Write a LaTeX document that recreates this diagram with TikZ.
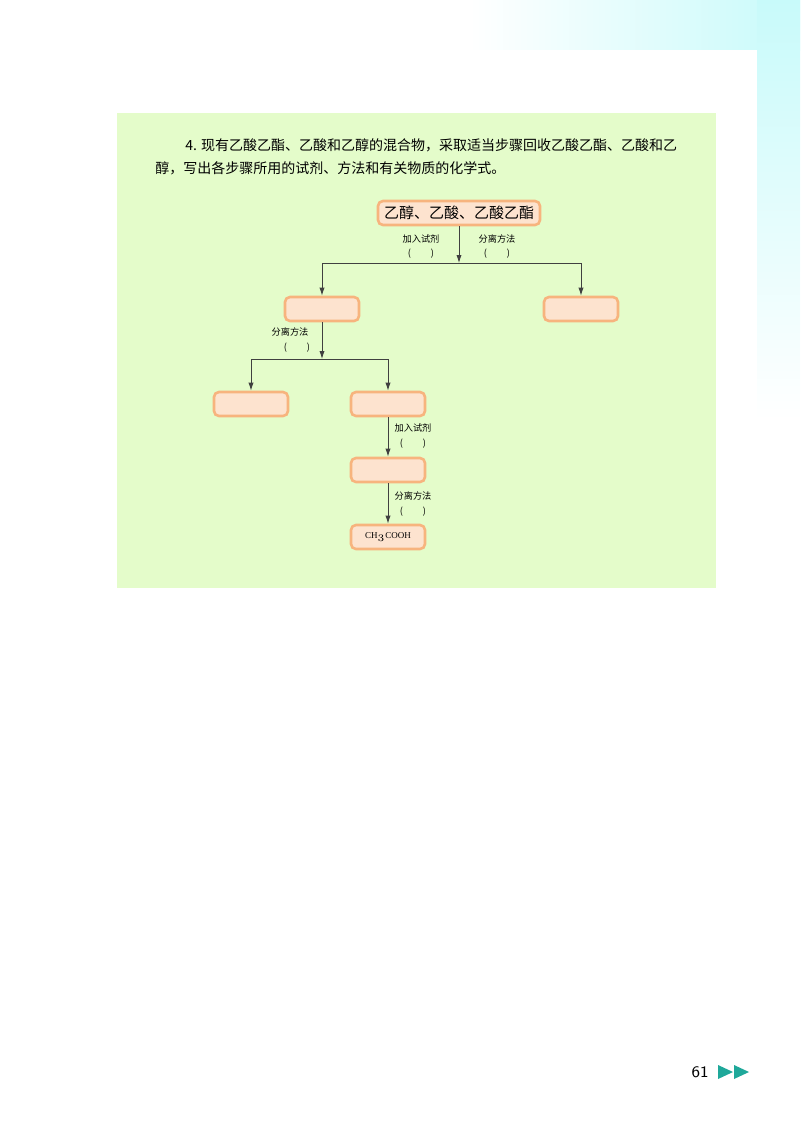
\documentclass[tikz,border=0pt]{standalone}
\usepackage{fontspec}
\newfontfamily\cjk{Noto Sans CJK SC}
\setmainfont{Liberation Serif}
\usetikzlibrary{arrows.meta}
\definecolor{panelgreen}{HTML}{E4FCCA}
\definecolor{boxfill}{HTML}{FDE3CF}
\definecolor{boxline}{HTML}{F7B47E}
\definecolor{skycyan}{HTML}{C8FAFA}
\definecolor{tipgreen}{HTML}{1FA89A}
\tikzset{
  stepbox/.style={draw=boxline, fill=boxfill, line width=1.3pt, rounded corners=2.5pt,
    minimum width=37pt, minimum height=12pt, inner sep=0pt, font=\fontsize{4.5}{5}\selectfont},
  tag/.style={font=\cjk\fontsize{4.6}{5}\selectfont, inner sep=0pt},
  flow/.style={-{Latex[length=4pt,width=2.6pt]}, line width=0.45pt, black!75}
}
\begin{document}
\begin{tikzpicture}[x=0.5pt,y=-0.5pt]
\useasboundingbox (0,0) rectangle (800,1132);
\fill[white] (0,0) rectangle (800,1132);
\shade[left color=white, right color=skycyan] (470,0) rectangle (800,50);
\shade[top color=skycyan, bottom color=white] (757,0) rectangle (800,420);
\fill[white] (0,50) rectangle (757,1132);
\fill[panelgreen] (117,113) rectangle (716,588);

\node[anchor=west, inner sep=0pt, font=\cjk\fontsize{7}{8}\selectfont] (q1) at (185,145)
  {4. 现有乙酸乙酯、乙酸和乙醇的混合物，采取适当步骤回收乙酸乙酯、乙酸和乙};
\node[anchor=west, inner sep=0pt, font=\cjk\fontsize{7}{8}\selectfont] (q2) at (155,168)
  {醇，写出各步骤所用的试剂、方法和有关物质的化学式。};

% boxes
\node[stepbox, minimum width=81pt, font=\cjk\fontsize{7.5}{8}\selectfont] (mix) at (459,213) {乙醇、乙酸、乙酸乙酯};
\node[stepbox] (a1) at (322,309) {};
\node[stepbox] (b1) at (581,309) {};
\node[stepbox] (a2) at (251,404) {};
\node[stepbox] (b2) at (388,404) {};
\node[stepbox] (b3) at (388,470) {};
\node[stepbox] (acid) at (388,537) {CH$_3$COOH};

\coordinate (j1) at (459,263);
\coordinate (j2) at (322,359);

% connectors
\draw[flow] (mix) -- (j1);
\draw[flow] (j1) -| (a1);
\draw[flow] (j1) -| (b1);
\draw[flow] (a1) -- (j2);
\draw[flow] (j2) -| (a2);
\draw[flow] (j2) -| (b2);
\draw[flow] (b2) -- (b3);
\draw[flow] (b3) -- (acid);

% labels
\node[tag] (r1) at (421,239) {加入试剂};
\node[tag] (r1p) at (421,254) {(\hspace{10pt})};
\node[tag] (s1) at (497,239) {分离方法};
\node[tag] (s1p) at (497,254) {(\hspace{10pt})};
\node[tag] (s2) at (290,332) {分离方法};
\node[tag] (s2p) at (297,348) {(\hspace{10pt})};
\node[tag] (r2) at (413,428) {加入试剂};
\node[tag] (r2p) at (413,444) {(\hspace{10pt})};
\node[tag] (s3) at (413,496) {分离方法};
\node[tag] (s3p) at (413,512) {(\hspace{10pt})};

% page number
\node[font=\fontsize{8}{9}\selectfont\sffamily, inner sep=0pt] (pg) at (700,1072) {61};
\fill[tipgreen] (718,1065) -- (733,1072) -- (718,1079) -- cycle
                (734,1065) -- (749,1072) -- (734,1079) -- cycle;
\end{tikzpicture}
\end{document}
